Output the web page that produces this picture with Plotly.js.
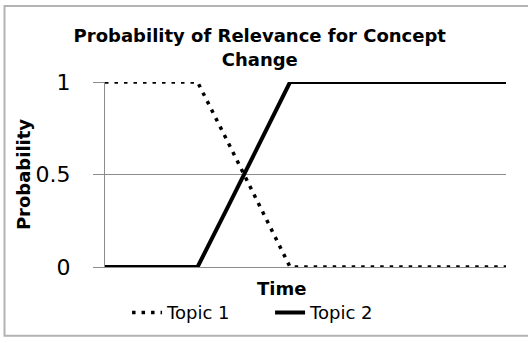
<!DOCTYPE html>
<html>
<head>
<meta charset="utf-8">
<script src="https://cdn.plot.ly/plotly-3.0.1.min.js"></script>
<style>
  body { margin: 0; background: #fff; }
  #chart { width: 528px; height: 343px; }
</style>
</head>
<body>
<div id="chart"></div>
<script>
// time steps along the x axis (no labels shown in the original)
const timeSteps = [1, 2, 3, 4, 5, 6, 7, 8, 9, 10, 11, 12, 13, 14];
const topic1 = [1, 1, 1, 1, 0.67, 0.33, 0, 0, 0, 0, 0, 0, 0, 0];
const topic2 = [0, 0, 0, 0, 0.33, 0.67, 1, 1, 1, 1, 1, 1, 1, 1];
const yTicks = [0, 0.5, 1];
const yTickLabels = ['0', '0.5', '1'];

const font = '"DejaVu Sans", "Open Sans", sans-serif';
const gray = '#8c8c8c';

const traces = [
  {
    x: timeSteps, y: topic1, name: 'Topic 1', type: 'scatter', mode: 'lines',
    line: {color: '#000', width: 3.5, dash: '3.5px,6px'},
  },
  {
    x: timeSteps, y: topic2, name: 'Topic 2', type: 'scatter', mode: 'lines',
    line: {color: '#000', width: 4},
  },
];

const layout = {
  width: 528, height: 343,
  margin: {l: 105, r: 22, t: 82, b: 72.5, pad: 0},
  paper_bgcolor: '#fff', plot_bgcolor: '#fff',
  font: {family: font, color: '#000'},
  showlegend: true,
  title: {
    text: '<b>Probability of Relevance for Concept<br>Change</b>',
    font: {family: font, size: 18, color: '#000'},
    x: 0.492, xanchor: 'center', y: 0.877, yanchor: 'top',
  },
  xaxis: {
    range: [1, 14], showgrid: false, zeroline: false,
    showline: true, linecolor: gray, linewidth: 1,
    showticklabels: false, ticks: '',
  },
  yaxis: {
    range: [0, 1], tickvals: yTicks, ticktext: yTickLabels,
    showgrid: true, gridcolor: gray, gridwidth: 1, zeroline: false,
    showline: true, linecolor: gray, linewidth: 1,
    ticks: 'outside', ticklen: 11, tickcolor: gray,
    ticklabelstandoff: 18,
    tickfont: {family: font, size: 22, color: '#000'},
    title: {text: '<b>Probability</b>', font: {family: font, size: 18}, standoff: 0},
  },
  legend: {
    orientation: 'h', x: 0.055, xanchor: 'left', y: -0.247, yanchor: 'middle',
    font: {family: font, size: 18, color: '#000'},
    entrywidth: 98, entrywidthmode: 'pixels', tracegroupgap: 0,
  },
  annotations: [
    {
      text: '<b>Time</b>', xref: 'paper', yref: 'paper',
      x: 0.441, y: -0.118, xanchor: 'center', yanchor: 'middle',
      showarrow: false, font: {family: font, size: 18, color: '#000'},
    },
  ],
  shapes: [
    {
      type: 'rect', xref: 'paper', yref: 'paper',
      x0: -0.2506, x1: 1.1, y0: -0.371, y1: 1.411,
      line: {color: '#b3b3b3', width: 2}, layer: 'below',
    },
  ],
};

Plotly.newPlot('chart', traces, layout, {displayModeBar: false, staticPlot: true});
</script>
</body>
</html>
